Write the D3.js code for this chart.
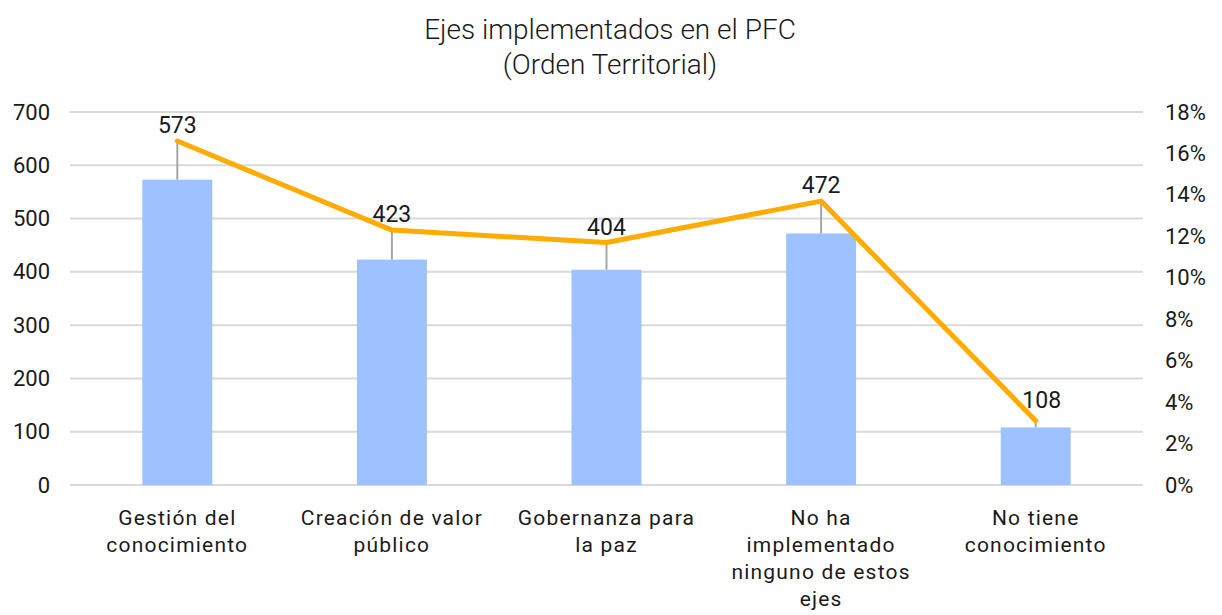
<!DOCTYPE html>
<html>
<head>
<meta charset="utf-8">
<script src="https://cdn.jsdelivr.net/npm/d3@7"></script>
<style>
  body { margin: 0; background: #fff; }
  text { font-family: Roboto, "Liberation Sans", sans-serif; fill: #1a1a1a; }
</style>
</head>
<body>
<svg id="chart" width="1222" height="615"></svg>
<script>
// chart data
const categories = [
  ['Gestión del', 'conocimiento'],
  ['Creación de valor', 'público'],
  ['Gobernanza para', 'la paz'],
  ['No ha', 'implementado', 'ninguno de estos', 'ejes'],
  ['No tiene', 'conocimiento']
];
const counts = [573, 423, 404, 472, 108];
const shares = [0.166, 0.123, 0.117, 0.137, 0.031];
const leftTicks = [0, 100, 200, 300, 400, 500, 600, 700];
const rightTicks = [0, 0.02, 0.04, 0.06, 0.08, 0.10, 0.12, 0.14, 0.16, 0.18];

const margin = { top: 112, bottom: 130, left: 70, right: 79 };
const width = 1222, height = 615;

const svg = d3.select('#chart');

// Title
svg.append('text')
  .attr('x', 610).attr('y', 39)
  .attr('text-anchor', 'middle')
  .style('font-size', '28px')
  .style('font-weight', 300)
  .text('Ejes implementados en el PFC');
svg.append('text')
  .attr('x', 610).attr('y', 74)
  .attr('text-anchor', 'middle')
  .style('font-size', '28px')
  .style('font-weight', 300)
  .text('(Orden Territorial)');

const x = d3.scaleBand()
  .domain(d3.range(categories.length))
  .range([margin.left, width - margin.right])
  .padding(0);

const y = d3.scaleLinear()
  .domain([0, 700])
  .range([height - margin.bottom, margin.top]);

const y2 = d3.scaleLinear()
  .domain([0, 0.18])
  .range([height - margin.bottom, margin.top]);

const barW = x.bandwidth() * 0.326;
const cx = i => x(i) + x.bandwidth() / 2;

// Gridlines
svg.append('g')
  .selectAll('line')
  .data(leftTicks)
  .join('line')
    .attr('x1', margin.left)
    .attr('x2', width - margin.right)
    .attr('y1', d => y(d))
    .attr('y2', d => y(d))
    .attr('stroke', '#d9d9d9')
    .attr('stroke-width', 2);

// Left axis
const yAxis = svg.append('g')
  .attr('transform', `translate(${margin.left},0)`)
  .call(d3.axisLeft(y).tickValues(leftTicks).tickSize(0).tickPadding(20));
yAxis.select('.domain').remove();
yAxis.selectAll('text').style('font-size', '22px').attr('fill', '#1a1a1a');

// Right axis
const y2Axis = svg.append('g')
  .attr('transform', `translate(${width - margin.right},0)`)
  .call(d3.axisRight(y2).tickValues(rightTicks).tickSize(0).tickPadding(22)
    .tickFormat(d3.format('.0%')));
y2Axis.select('.domain').remove();
y2Axis.selectAll('text').style('font-size', '22px').attr('fill', '#1a1a1a');

// Bars
svg.append('g')
  .selectAll('rect')
  .data(counts)
  .join('rect')
    .attr('x', (d, i) => cx(i) - barW / 2)
    .attr('y', d => y(d))
    .attr('width', barW)
    .attr('height', d => y(0) - y(d))
    .attr('fill', '#9ec1ff');

// Leader lines from bar top to line point
svg.append('g')
  .selectAll('line')
  .data(counts)
  .join('line')
    .attr('x1', (d, i) => cx(i))
    .attr('x2', (d, i) => cx(i))
    .attr('y1', d => y(d))
    .attr('y2', (d, i) => y2(shares[i]))
    .attr('stroke', '#a6a6a6')
    .attr('stroke-width', 2);

// Percentage line
const line = d3.line()
  .x((d, i) => cx(i))
  .y(d => y2(d));

svg.append('path')
  .datum(shares)
  .attr('d', line)
  .attr('fill', 'none')
  .attr('stroke', '#ffab00')
  .attr('stroke-width', 5)
  .attr('stroke-linecap', 'round')
  .attr('stroke-linejoin', 'round');

// Value labels
svg.append('g')
  .selectAll('text')
  .data(counts)
  .join('text')
    .attr('x', (d, i) => cx(i) + (i === 4 ? 6 : 0))
    .attr('y', (d, i) => Math.min(y2(shares[i]), y(d)) - (i === 4 ? 13 : 8))
    .attr('text-anchor', 'middle')
    .style('font-size', '23px')
    .text(d => d);

// Category labels
const labels = svg.append('g')
  .selectAll('text')
  .data(categories)
  .join('text')
    .attr('x', (d, i) => cx(i))
    .attr('y', height - margin.bottom + 40)
    .attr('text-anchor', 'middle')
    .style('font-size', '21px')
    .style('letter-spacing', '1.2px');
labels.selectAll('tspan')
  .data(d => d)
  .join('tspan')
    .attr('x', function() { return d3.select(this.parentNode).attr('x'); })
    .attr('dy', (d, i) => i === 0 ? 0 : 27)
    .text(d => d);
</script>
</body>
</html>
